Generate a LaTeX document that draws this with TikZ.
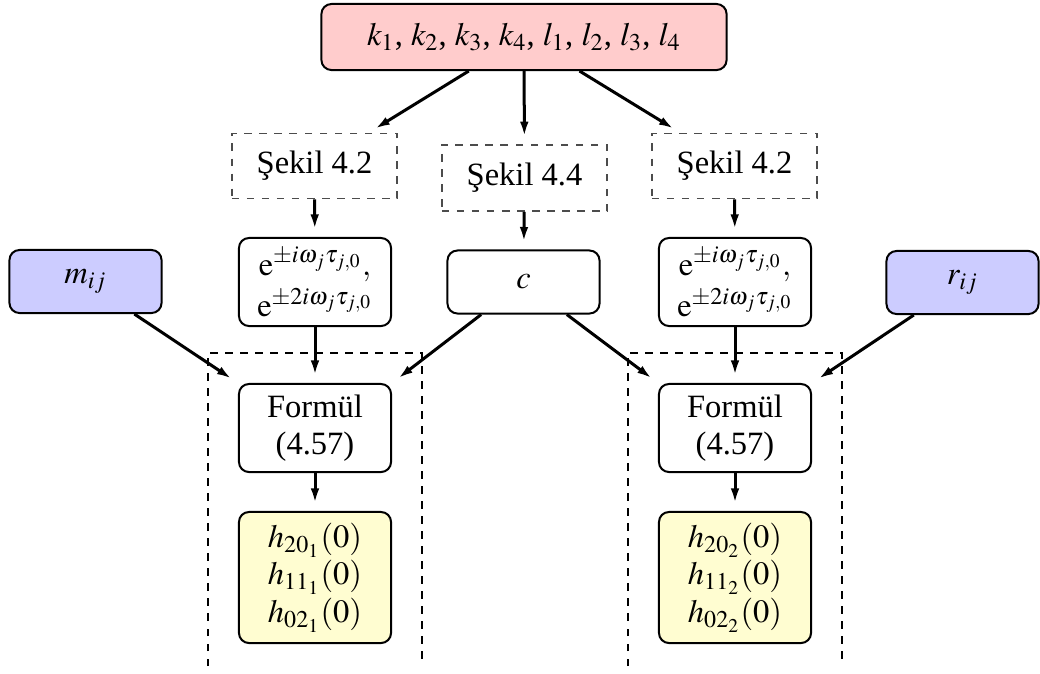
\documentclass[tikz,border=0pt]{standalone}
\usepackage{mathptmx}
\usepackage{fontspec}
\setmainfont{Liberation Serif}
\usetikzlibrary{arrows.meta}

\tikzset{
  every node/.style={font=\fontsize{13}{15}\selectfont, align=center},
  box/.style={draw, line width=0.8pt, rounded corners=4pt, minimum width=60.8pt},
  figbox/.style={draw=black!70, dashed, line width=0.6pt, minimum width=66pt, minimum height=26pt},
  arr/.style={-{Latex[length=6pt,width=3.4pt]}, line width=1.2pt, shorten >=3pt},
  group/.style={dashed, line width=0.5pt}
}

\begin{document}
\begin{tikzpicture}[x=0.01406cm,y=-0.01406cm]
  \useasboundingbox (0,0) rectangle (1040,673);

  % parameters
  \node[box, fill=red!20, minimum width=162pt, minimum height=26.4pt] (params) at (524,37)
    {$k_1$, $k_2$, $k_3$, $k_4$, $l_1$, $l_2$, $l_3$, $l_4$};

  % figures
  \node[figbox] (fig1) at (314.5,166) {Şekil 4.2};
  \node[figbox, minimum height=26.4pt] (fig2) at (524.5,178) {Şekil 4.4};
  \node[figbox] (fig3) at (734.5,166) {Şekil 4.2};

  % intermediate values
  \node[box, minimum height=35.2pt, inner sep=1pt] (exp1) at (315,282)
    {$\mathrm{e}^{\pm i\omega_j\tau_{j,0}},$\\[1.5pt]$\mathrm{e}^{\pm 2i\omega_j\tau_{j,0}}$};
  \node[box, minimum height=25.2pt] (cval) at (523.5,282) {$c$};
  \node[box, minimum height=35.2pt, inner sep=1pt] (exp2) at (735,282)
    {$\mathrm{e}^{\pm i\omega_j\tau_{j,0}},$\\[1.5pt]$\mathrm{e}^{\pm 2i\omega_j\tau_{j,0}}$};
  \node[box, fill=blue!20, minimum height=25.2pt] (mij) at (85.5,281.5) {$m_{ij}$};
  \node[box, fill=blue!20, minimum height=25.2pt] (rij) at (962.5,282.5) {$r_{ij}$};

  % formulas
  \node[box, minimum height=35.2pt] (form1) at (315,428) {Formül\\(4.57)};
  \node[box, minimum height=35.2pt] (form2) at (735,428) {Formül\\(4.57)};

  % results
  \node[box, fill=yellow!18, minimum height=52.4pt] (res1) at (315,577.5)
    {$h_{20_1}(0)$\\$h_{11_1}(0)$\\$h_{02_1}(0)$};
  \node[box, fill=yellow!18, minimum height=52.4pt] (res2) at (735,577.5)
    {$h_{20_2}(0)$\\$h_{11_2}(0)$\\$h_{02_2}(0)$};

  % groups
  \draw[group] (208,666) -- (208,353) -- (422,353) -- (422,666);
  \draw[group] (628,666) -- (628,353) -- (842,353) -- (842,666);

  \draw[arr] (params) -- (fig1);
  \draw[arr] (params) -- (fig2);
  \draw[arr] (params) -- (fig3);
  \draw[arr] (fig1) -- (exp1);
  \draw[arr] (fig2) -- (cval);
  \draw[arr] (fig3) -- (exp2);

  \draw[arr] (mij) -- (form1.north west);
  \draw[arr] (exp1) -- (form1);
  \draw[arr] (cval) -- (form1.north east);
  \draw[arr] (cval) -- (form2.north west);
  \draw[arr] (exp2) -- (form2);
  \draw[arr] (rij) -- (form2.north east);

  \draw[arr] (form1) -- (res1);
  \draw[arr] (form2) -- (res2);
\end{tikzpicture}
\end{document}
